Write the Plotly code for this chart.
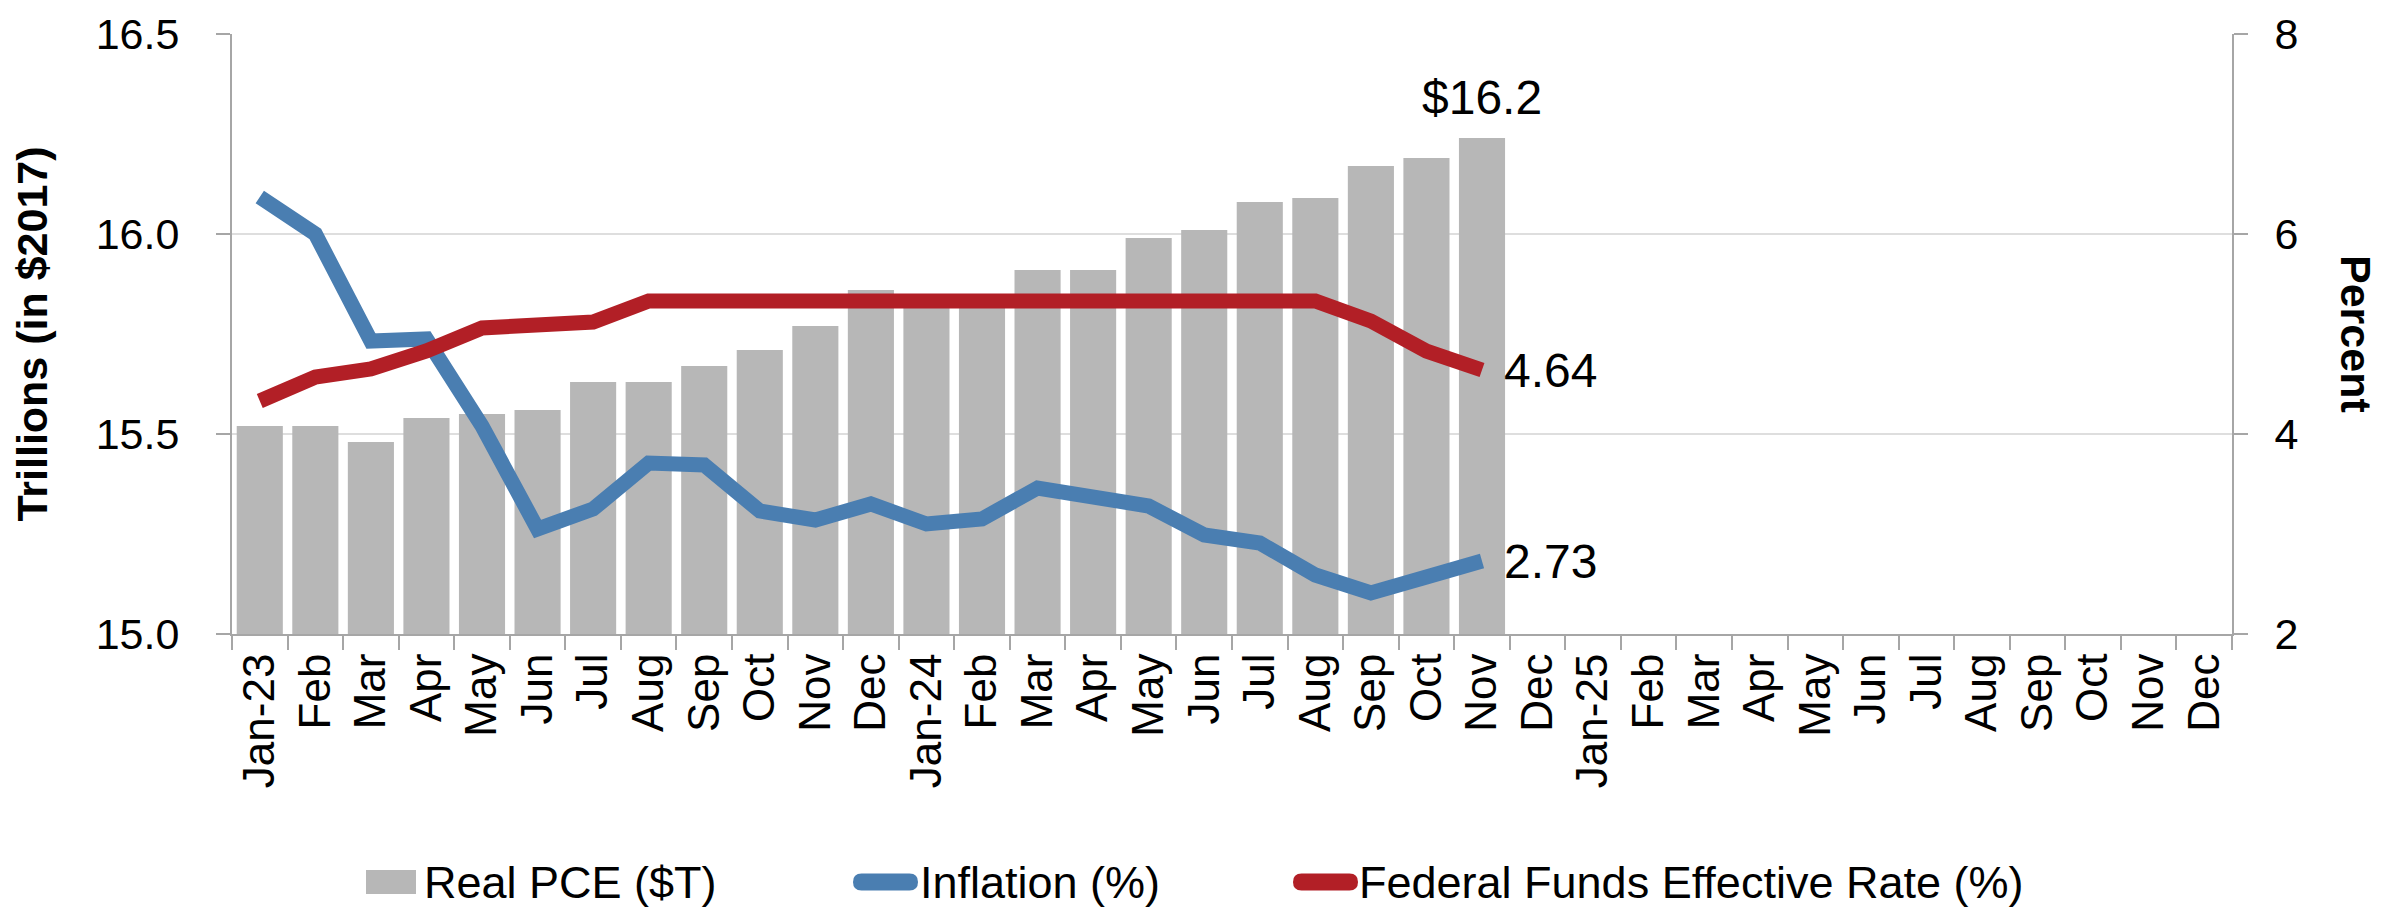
import plotly.graph_objects as go

# ---------------- data ----------------
months = ["Jan-23", "Feb", "Mar", "Apr", "May", "Jun", "Jul", "Aug", "Sep", "Oct", "Nov", "Dec",
          "Jan-24", "Feb", "Mar", "Apr", "May", "Jun", "Jul", "Aug", "Sep", "Oct", "Nov", "Dec",
          "Jan-25", "Feb", "Mar", "Apr", "May", "Jun", "Jul", "Aug", "Sep", "Oct", "Nov", "Dec"]

real_pce = [15.52, 15.52, 15.48, 15.54, 15.55, 15.56, 15.63, 15.63, 15.67, 15.71, 15.77, 15.86,
            15.83, 15.84, 15.91, 15.91, 15.99, 16.01, 16.08, 16.09, 16.17, 16.19, 16.24]

inflation = [6.37, 6.00, 4.93, 4.95, 4.08, 3.05, 3.25, 3.71, 3.69, 3.23, 3.14, 3.30,
             3.10, 3.15, 3.46, 3.37, 3.28, 2.99, 2.91, 2.59, 2.41, 2.57, 2.73]

fed_funds = [4.33, 4.57, 4.65, 4.83, 5.06, 5.08, 5.12, 5.33, 5.33, 5.33, 5.33, 5.33,
             5.33, 5.33, 5.33, 5.33, 5.33, 5.33, 5.33, 5.33, 5.13, 4.83, 4.64]

left_ticks = [15.0, 15.5, 16.0, 16.5]
right_ticks = [2, 4, 6, 8]

series_names = ["Real PCE ($T)", "Inflation (%)", "Federal Funds Effective Rate (%)"]

# ---------------- style ----------------
GRAY_BAR = "#b7b7b7"
BLUE = "#4a7eb1"
RED = "#b21f26"
AXIS = "#a6a6a6"
GRID = "#dedede"
FONT = "Liberation Sans, Arial, sans-serif"

W, H = 2381, 907
ML, MR, MT, MB = 224, 157, 26, 281
PW, PH = W - ML - MR, H - MT - MB


def px2x(px):
    return (px - ML) / PW


def py2y(py):
    return (MT + PH - py) / PH


xs = list(range(len(real_pce)))

fig = go.Figure()
fig.add_trace(go.Bar(x=xs, y=real_pce, name=series_names[0], marker=dict(color=GRAY_BAR, line=dict(width=0)),
                     yaxis="y", showlegend=False))
fig.add_trace(go.Scatter(x=xs, y=inflation, name=series_names[1], mode="lines",
                         line=dict(color=BLUE, width=15), yaxis="y2", showlegend=False))
fig.add_trace(go.Scatter(x=xs, y=fed_funds, name=series_names[2], mode="lines",
                         line=dict(color=RED, width=15), yaxis="y2", showlegend=False))

fig.update_layout(
    width=W, height=H,
    margin=dict(l=ML, r=MR, t=MT, b=MB, autoexpand=False),
    paper_bgcolor="white", plot_bgcolor="white",
    font=dict(family=FONT, color="black", size=43),
    bargap=0.17,
    xaxis=dict(
        range=[-0.5, len(months) - 0.5],
        tickmode="array", tickvals=list(range(len(months))), ticktext=months,
        tickangle=-90, ticks="", showgrid=False, zeroline=False,
        showline=True, linecolor=AXIS, linewidth=2,
        tickfont=dict(size=44), ticklabelstandoff=0,
        minor=dict(tickmode="linear", tick0=-0.5, dtick=1, ticks="outside", ticklen=14,
                   tickcolor=AXIS, tickwidth=2, showgrid=False),
    ),
    yaxis=dict(
        range=[15.0, 16.5], tickmode="array", tickvals=left_ticks, tickformat=".1f",
        showgrid=True, gridcolor=GRID, gridwidth=2, zeroline=False,
        showline=True, linecolor=AXIS, linewidth=2,
        ticks="outside", ticklen=14, tickcolor=AXIS, tickwidth=2,
        tickfont=dict(size=43), ticklabelstandoff=28,
        title=dict(text="<b>Trillions (in $2017)</b>", font=dict(size=43), standoff=42),
    ),
    yaxis2=dict(
        range=[2, 8], tickmode="array", tickvals=right_ticks, overlaying="y", side="right",
        showgrid=False, zeroline=False,
        showline=True, linecolor=AXIS, linewidth=2,
        ticks="outside", ticklen=14, tickcolor=AXIS, tickwidth=2,
        tickfont=dict(size=43), ticklabelstandoff=18,
    ),
)

# data labels
fig.add_annotation(x=xs[-1], y=real_pce[-1], xref="x", yref="y", text=f"${real_pce[-1]:.1f}",
                   showarrow=False, yanchor="bottom", yshift=12, font=dict(size=48))
fig.add_annotation(x=xs[-1], y=fed_funds[-1], xref="x", yref="y2", text=f"{fed_funds[-1]:.2f}",
                   showarrow=False, xanchor="left", yanchor="middle", xshift=20, font=dict(size=48))
fig.add_annotation(x=xs[-1], y=inflation[-1], xref="x", yref="y2", text=f"{inflation[-1]:.2f}",
                   showarrow=False, xanchor="left", yanchor="middle", xshift=20, font=dict(size=48))

# right axis title (reads top to bottom)
fig.add_annotation(x=px2x(2348), y=0.5, xref="paper", yref="paper", text="<b>Percent</b>",
                   textangle=90, showarrow=False, xanchor="center", yanchor="middle", font=dict(size=43))

# custom legend
LEG_Y = 874
fig.add_shape(type="rect", xref="paper", yref="paper", x0=px2x(358), x1=px2x(408),
              y0=py2y(LEG_Y + 12), y1=py2y(LEG_Y - 12), fillcolor=GRAY_BAR, line=dict(width=0))


def pill(x0, x1, yc, h):
    r = h / 2

    def P(x, y):
        return f"{px2x(x)},{py2y(y)}"
    return (f"M{P(x0 + r, yc - r)} L{P(x1 - r, yc - r)} Q{P(x1, yc - r)} {P(x1, yc)} "
            f"Q{P(x1, yc + r)} {P(x1 - r, yc + r)} L{P(x0 + r, yc + r)} "
            f"Q{P(x0, yc + r)} {P(x0, yc)} Q{P(x0, yc - r)} {P(x0 + r, yc - r)} Z")


fig.add_shape(type="path", xref="paper", yref="paper", path=pill(845, 910, LEG_Y, 17),
              fillcolor=BLUE, line=dict(width=0))
fig.add_shape(type="path", xref="paper", yref="paper", path=pill(1285, 1350, LEG_Y, 17),
              fillcolor=RED, line=dict(width=0))

for name, xpx in zip(series_names, [414, 910, 1349]):
    fig.add_annotation(x=px2x(xpx), y=py2y(LEG_Y), xref="paper", yref="paper", text=name,
                       showarrow=False, xanchor="left", yanchor="middle", font=dict(size=45))

fig.write_html("out.html")
